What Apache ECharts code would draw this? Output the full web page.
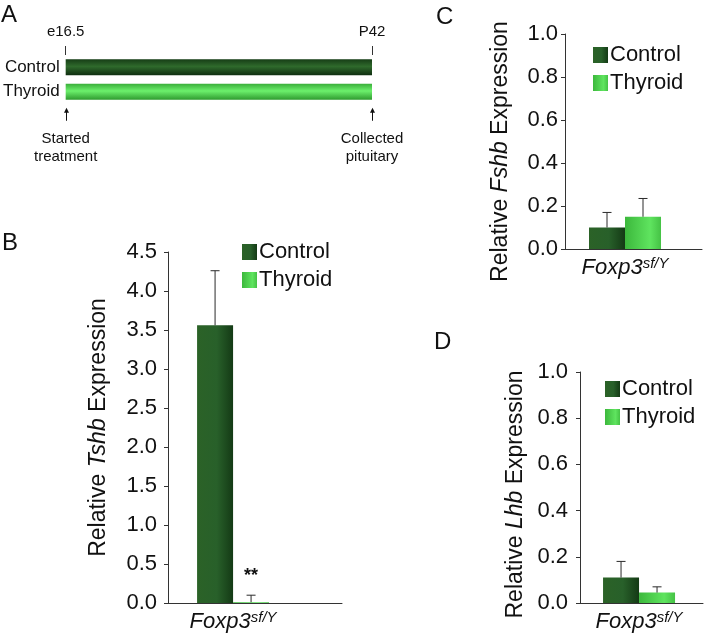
<!DOCTYPE html>
<html>
<head>
<meta charset="utf-8">
<script src="https://cdn.jsdelivr.net/npm/echarts@6/dist/echarts.min.js"></script>
<style>
  html, body { margin: 0; padding: 0; background: #fff; }
  #chart { width: 715px; height: 639px; }
</style>
</head>
<body>
<div id="chart"></div>
<script>
// ---------- data ----------
const groups = ['Control', 'Thyroid'];
const timelineTicks = ['e16.5', 'P42'];
const timelineNotes = ['Started\ntreatment', 'Collected\npituitary'];
const timelineSpan = [1, 1];            // both groups treated over the full window

const genotypeMain = 'Foxp3';
const genotypeSup = 'sf/Y';

const tshbMean = [3.56, 0.01];
const tshbSd   = [0.70, 0.09];
const tshbSig  = ['', '**'];

const fshbMean = [0.10, 0.15];
const fshbSd   = [0.07, 0.085];
const fshbSig  = ['', ''];

const lhbMean  = [0.11, 0.045];
const lhbSd    = [0.07, 0.025];
const lhbSig   = ['', ''];

const tshbTicks = { min: 0, max: 4.5, interval: 0.5 };
const smallTicks = { min: 0, max: 1.0, interval: 0.2 };

// ---------- style ----------
const FONT = 'Liberation Sans, Arial, Helvetica, sans-serif';
const INK = '#111';
const AXIS = '#333';
const BAR_W = 36;

const ctrlGrad = { type: 'linear', x: 0, y: 0, x2: 1, y2: 0,
  colorStops: [{ offset: 0, color: '#2b6227' }, { offset: 0.55, color: '#28602a' }, { offset: 1, color: '#143a15' }] };
const thyGrad = { type: 'linear', x: 0, y: 0, x2: 1, y2: 0,
  colorStops: [{ offset: 0, color: '#3cb83c' }, { offset: 0.7, color: '#5fe45f' }, { offset: 1, color: '#45c245' }] };
const groupGrad = [ctrlGrad, thyGrad];

const ctrlTube = { type: 'linear', x: 0, y: 0, x2: 0, y2: 1,
  colorStops: [{ offset: 0, color: '#163d16' }, { offset: 0.45, color: '#2f6a2c' }, { offset: 1, color: '#0f2e10' }] };
const thyTube = { type: 'linear', x: 0, y: 0, x2: 0, y2: 1,
  colorStops: [{ offset: 0, color: '#3aae3a' }, { offset: 0.45, color: '#6cf06c' }, { offset: 1, color: '#2f9a2f' }] };

// panel layout: grid + relative x position of the bar group along the x axis
const panels = [
  { key: 'B', grid: { left: 168, top: 252, width: 174, height: 351 }, pos: 0.374, gene: 'Tshb',
    mean: tshbMean, sd: tshbSd, sig: tshbSig, ticks: tshbTicks, labelMargin: 11, nameGap: 58, namePad: [0, 0, 0, 0],
    legend: { left: 242, top: 241 } },
  { key: 'C', grid: { left: 565, top: 34, width: 137, height: 215 }, pos: 0.438, gene: 'Fshb',
    mean: fshbMean, sd: fshbSd, sig: fshbSig, ticks: smallTicks, labelMargin: 7, nameGap: 53, namePad: [0, 20, 0, 0],
    legend: { left: 593, top: 44 } },
  { key: 'D', grid: { left: 580, top: 372, width: 123, height: 231 }, pos: 0.48, gene: 'Lhb',
    mean: lhbMean, sd: lhbSd, sig: lhbSig, ticks: smallTicks, labelMargin: 12, nameGap: 53, namePad: [0, 14, 0, 0],
    legend: { left: 605, top: 378 } }
];

// ---------- option ----------
const grids = [{ left: 65, top: 55, width: 307, height: 49 }];
const xAxes = [
  { gridIndex: 0, type: 'value', min: 0, max: 1, position: 'top',
    axisLine: { show: false }, splitLine: { show: false },
    axisTick: { show: true, customValues: [0, 1], length: 9, lineStyle: { color: AXIS } },
    axisLabel: { customValues: [0, 1], margin: 16, fontSize: 15, color: INK, fontFamily: FONT,
      formatter: v => timelineTicks[v === 0 ? 0 : 1] } },
  { gridIndex: 0, type: 'value', min: 0, max: 1, position: 'bottom',
    axisLine: { show: false }, splitLine: { show: false }, axisTick: { show: false },
    axisLabel: { customValues: [0, 1], margin: 26, fontSize: 15, lineHeight: 18, color: INK, fontFamily: FONT,
      formatter: v => timelineNotes[v === 0 ? 0 : 1] } }
];
const yAxes = [
  { gridIndex: 0, type: 'category', data: groups, inverse: true,
    axisLine: { show: false }, axisTick: { show: false }, splitLine: { show: false },
    axisLabel: { margin: 6, fontSize: 17, color: INK, fontFamily: FONT } }
];
const series = [
  { type: 'bar', xAxisIndex: 0, yAxisIndex: 0, barWidth: 16, silent: true,
    data: timelineSpan.map((v, i) => ({ value: v, itemStyle: { color: i === 0 ? ctrlTube : thyTube } })) }
];
const legends = [];
const titles = [
  { text: 'A', left: 1, top: 3 },
  { text: 'B', left: 2, top: 231 },
  { text: 'C', left: 436, top: 5 },
  { text: 'D', left: 434, top: 330 }
].map(t => Object.assign(t, { padding: 0, textStyle: { fontSize: 24, fontWeight: 'normal', color: INK, fontFamily: FONT } }));

panels.forEach((p, k) => {
  const gi = k + 1;        // grid index and y axis index
  const xi = k + 2;        // x axis index (two x axes belong to the timeline)
  grids.push(p.grid);
  xAxes.push({
    gridIndex: gi, type: 'value', min: 0, max: 1,
    axisLine: { show: true, lineStyle: { color: AXIS, width: 1 } },
    axisTick: { show: false }, splitLine: { show: false },
    axisLabel: {
      customValues: [p.pos], margin: 7, color: INK, fontFamily: FONT,
      formatter: () => '{i|' + genotypeMain + '}{s|' + genotypeSup + '}',
      rich: {
        i: { fontStyle: 'italic', fontSize: 22, fontFamily: FONT, color: INK },
        s: { fontStyle: 'italic', fontSize: 15, fontFamily: FONT, color: INK, verticalAlign: 'top', padding: [0, 0, 8, 0] }
      }
    }
  });
  yAxes.push({
    gridIndex: gi, type: 'value', min: p.ticks.min, max: p.ticks.max, interval: p.ticks.interval,
    axisLine: { show: true, lineStyle: { color: AXIS, width: 1 } },
    axisTick: { show: true, length: 4, lineStyle: { color: AXIS } },
    splitLine: { show: false },
    axisLabel: { margin: p.labelMargin, fontSize: 22, color: INK, fontFamily: FONT, formatter: v => v.toFixed(1) },
    name: '{n|Relative }{i|' + p.gene + '}{n| Expression}',
    nameLocation: 'middle', nameGap: p.nameGap,
    nameTextStyle: {
      padding: p.namePad,
      rich: {
        n: { fontSize: 23, fontFamily: FONT, color: INK },
        i: { fontSize: 23, fontFamily: FONT, color: INK, fontStyle: 'italic' }
      }
    }
  });
  groups.forEach((g, j) => {
    series.push({
      name: g, type: 'bar', xAxisIndex: xi, yAxisIndex: gi,
      barWidth: BAR_W, barGap: '0%', silent: true,
      itemStyle: { color: groupGrad[j] },
      data: [[p.pos, p.mean[j]]]
    });
  });
  series.push({
    type: 'custom', xAxisIndex: xi, yAxisIndex: gi, silent: true, z: 5,
    data: groups.map((g, j) => [p.pos, p.mean[j], p.mean[j] + p.sd[j], j]),
    renderItem: (params, api) => {
      const x = api.value(0), lo = api.value(1), hi = api.value(2), j = api.value(3);
      const a = api.coord([x, lo]);
      const b = api.coord([x, hi]);
      const cx = a[0] + (j - 0.5) * BAR_W;
      const st = { stroke: '#2a2a2a', lineWidth: 1 };
      const children = [
        { type: 'line', shape: { x1: cx, y1: a[1], x2: cx, y2: b[1] }, style: st },
        { type: 'line', shape: { x1: cx - 4.5, y1: b[1], x2: cx + 4.5, y2: b[1] }, style: st }
      ];
      const s = p.sig[params.dataIndex];
      if (s) {
        children.push({ type: 'text', style: { text: s, x: cx, y: b[1] - 10, align: 'center', verticalAlign: 'bottom',
          fontSize: 18, fontWeight: 'bold', fontFamily: FONT, fill: INK } });
      }
      return { type: 'group', children };
    }
  });
  legends.push({
    data: groups, orient: 'vertical', left: p.legend.left, top: p.legend.top, padding: 0,
    icon: 'rect', itemWidth: 15, itemHeight: 16, itemGap: 6, selectedMode: false,
    textStyle: { fontSize: 22, lineHeight: 22, color: INK, fontFamily: FONT, padding: [0, 0, 0, -3] }
  });
});

const chart = echarts.init(document.getElementById('chart'), null, { renderer: 'canvas' });
chart.setOption({
  animation: false,
  backgroundColor: '#fff',
  title: titles,
  grid: grids,
  xAxis: xAxes,
  yAxis: yAxes,
  legend: legends,
  series: series
});

// arrows under the timeline, placed through the timeline axes
const arrows = [0, 1].map(v => {
  const pt = chart.convertToPixel({ xAxisIndex: 0, yAxisIndex: 0 }, [v, groups[1]]);
  const x = Math.round(pt[0]) + 0.5;
  const y0 = pt[1] + 16, y1 = pt[1] + 29;
  return [
    { type: 'line', shape: { x1: x, y1: y0 + 3, x2: x, y2: y1 }, style: { stroke: INK, lineWidth: 1 } },
    { type: 'polygon', shape: { points: [[x, y0], [x - 2.5, y0 + 5], [x + 2.5, y0 + 5]] }, style: { fill: INK } }
  ];
}).flat();
chart.setOption({ graphic: arrows });
</script>
</body>
</html>
